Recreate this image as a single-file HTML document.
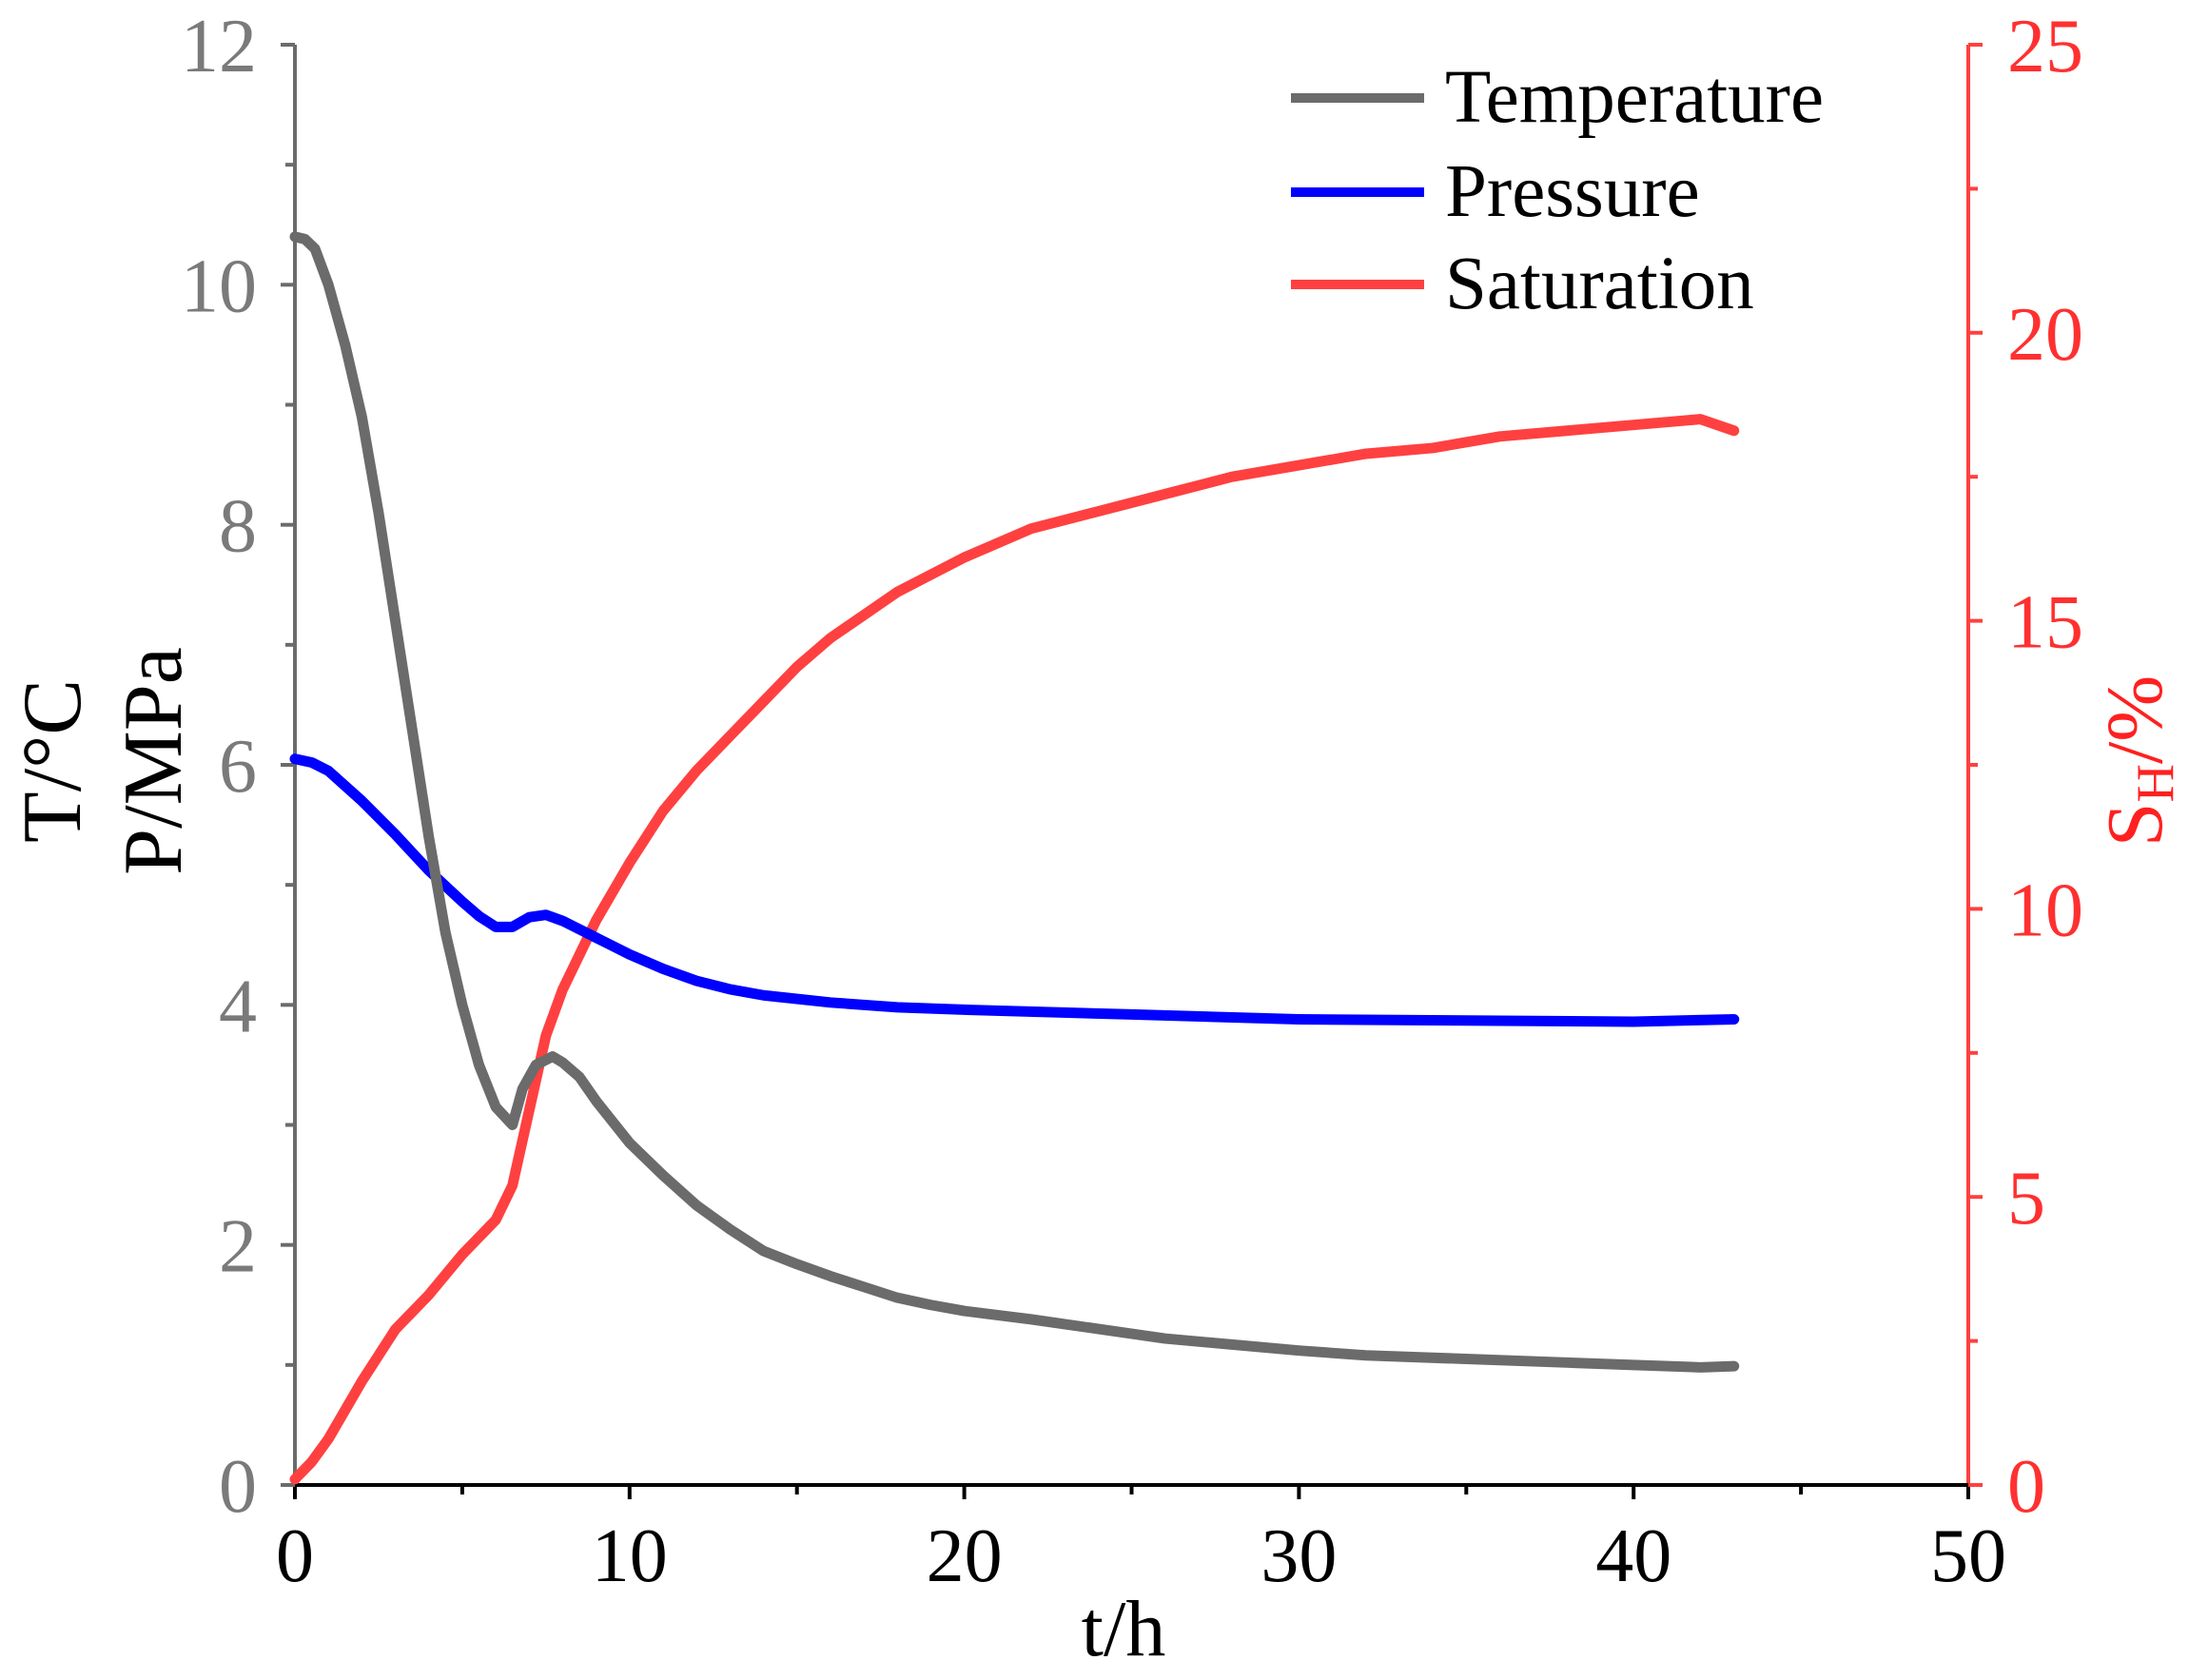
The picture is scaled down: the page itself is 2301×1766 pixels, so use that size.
<!DOCTYPE html>
<html><head><meta charset="utf-8"><style>
html,body{margin:0;padding:0;background:#fff}
svg{display:block;font-family:"Liberation Serif",serif}
</style></head><body>
<svg id="chart" width="2301" height="1766" viewBox="0 0 2301 1766" xmlns="http://www.w3.org/2000/svg">
<g id="axes"></g>
<g id="series"></g>
<g id="legend">
  <line x1="1357" y1="103" x2="1497" y2="103" stroke="#6b6b6b" stroke-width="10"/>
  <text x="1519" y="128" font-size="79">Temperature</text>
  <line x1="1357" y1="202" x2="1497" y2="202" stroke="#0000ff" stroke-width="10"/>
  <text x="1519" y="227" font-size="79">Pressure</text>
  <line x1="1357" y1="299" x2="1497" y2="299" stroke="#ff4040" stroke-width="10"/>
  <text x="1519" y="324" font-size="79">Saturation</text>
</g>
<text x="1181" y="1740" font-size="84" text-anchor="middle">t/h</text>
<text transform="translate(84,800) rotate(-90)" font-size="88" text-anchor="middle">T/°C</text>
<text transform="translate(190,800) rotate(-90)" font-size="88" text-anchor="middle">P/MPa</text>
<text transform="translate(2272,800) rotate(-90)" font-size="84" text-anchor="middle" fill="#ff2020">S<tspan font-size="56" dy="12">H</tspan><tspan dy="-12">/%</tspan></text>
</svg>
<script>
const xTicks=[0,10,20,30,40,50];
const leftTicks=[0,2,4,6,8,10,12];
const rightTicks=[0,5,10,15,20,25];
const tempT=[0,0.3,0.6,1,1.5,2,2.5,3,3.5,4,4.5,5,5.5,6,6.5,6.8,7.2,7.7,8,8.5,9,10,11,12,13,14,15,16,17,18,19,20,22,24,26,28,30,32,35,38,40,42,43];
const tempV=[10.4,10.38,10.3,10.0,9.5,8.9,8.1,7.2,6.3,5.4,4.6,4.0,3.5,3.15,3.0,3.3,3.5,3.57,3.52,3.4,3.2,2.85,2.58,2.33,2.13,1.95,1.84,1.74,1.65,1.56,1.5,1.45,1.38,1.3,1.22,1.17,1.12,1.08,1.05,1.02,1.0,0.98,0.99];
const presT=[0,0.5,1,2,3,4,5,5.5,6,6.5,7,7.5,8,9,10,11,12,13,14,16,18,20,25,30,35,40,43];
const presV=[6.05,6.02,5.95,5.7,5.42,5.12,4.86,4.74,4.65,4.65,4.73,4.75,4.7,4.56,4.42,4.3,4.2,4.13,4.08,4.02,3.98,3.96,3.92,3.88,3.87,3.86,3.88];
const satT=[0,0.5,1,2,3,4,5,6,6.5,7,7.5,8,9,10,11,12,13,14,15,16,17,18,19,20,22,24,26,28,30,32,34,36,38,40,42,43];
const satV=[0.1,0.4,0.8,1.8,2.7,3.3,4.0,4.6,5.2,6.5,7.8,8.6,9.8,10.8,11.7,12.4,13.0,13.6,14.2,14.7,15.1,15.5,15.8,16.1,16.6,16.9,17.2,17.5,17.7,17.9,18.0,18.2,18.3,18.4,18.5,18.3];
const X0=310,X1=2069,Y0=1561,Y1=47;
const sx=v=>X0+(X1-X0)*v/50;
const syL=v=>Y0-(Y0-Y1)*v/12;
const syR=v=>Y0-(Y0-Y1)*v/25;
const NS="http://www.w3.org/2000/svg";
function mk(tag,attrs,parent){const e=document.createElementNS(NS,tag);for(const k in attrs)e.setAttribute(k,attrs[k]);parent.appendChild(e);return e;}
const ax=document.getElementById('axes');
let e;
e=mk('line',{x1:X0,y1:Y0,x2:X0,y2:Y1,stroke:'#6b6b6b','stroke-width':4},ax);


e=mk('line',{x1:X1,y1:Y0,x2:X1,y2:Y1,stroke:'#ff4040','stroke-width':4},ax);


e=mk('line',{x1:X0,y1:Y0,x2:X1,y2:Y0,stroke:'#000','stroke-width':4},ax);


for(let v=0;v<=50;v+=5){const maj=v%10===0;e=mk('line',{x1:sx(v),y1:Y0,x2:sx(v),y2:Y0+(maj?15:10),stroke:'#000','stroke-width':4},ax);

}
xTicks.forEach(v=>{e=mk('text',{x:sx(v),y:1662,'font-size':80,'text-anchor':'middle'},ax);e.textContent=v;

});
for(let v=0;v<=12;v+=1){const maj=v%2===0;e=mk('line',{x1:X0,y1:syL(v),x2:X0-(maj?15:10),y2:syL(v),stroke:'#6b6b6b','stroke-width':4},ax);

}
leftTicks.forEach(v=>{e=mk('text',{x:270,y:syL(v)+28,'font-size':80,'text-anchor':'end',fill:'#7a7a7a'},ax);e.textContent=v;

});
for(let v=0;v<=25;v+=2.5){const maj=v%5===0;e=mk('line',{x1:X1,y1:syR(v),x2:X1+(maj?15:10),y2:syR(v),stroke:'#ff4040','stroke-width':4},ax);

}
rightTicks.forEach(v=>{e=mk('text',{x:2110,y:syR(v)+28,'font-size':80,'text-anchor':'start',fill:'#ff3030'},ax);e.textContent=v;

});
const se=document.getElementById('series');
function line(ts,vs,sy,color){return mk('polyline',{points:ts.map((t,i)=>sx(t)+','+sy(vs[i])).join(' '),fill:'none',stroke:color,'stroke-width':11,'stroke-linejoin':'round','stroke-linecap':'round'},se);}
e=line(satT,satV,syR,'#ff4040');


e=line(presT,presV,syL,'#0000ff');


e=line(tempT,tempV,syL,'#6b6b6b');


</script>
</body></html>
